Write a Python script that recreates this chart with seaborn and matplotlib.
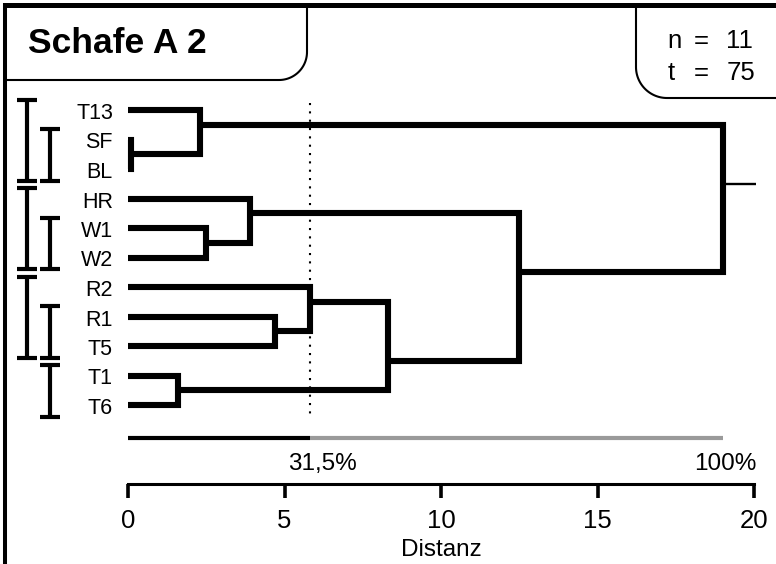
import numpy as np
import pandas as pd
import matplotlib
matplotlib.use("Agg")
import matplotlib.pyplot as plt
import seaborn as sns

# ---------------- data ----------------
leaves = ["T13", "SF", "BL", "HR", "W1", "W2", "R2", "R1", "T5", "T1", "T6"]
merge_left = ["SF", "T13", "W1", "HR", "R1", "R2", "T1", "K6", "K4", "K2"]
merge_right = ["BL", "K1", "W2", "K3", "T5", "K5", "T6", "K7", "K8", "K9"]
merge_dist = [0.1, 2.3, 2.5, 3.9, 4.7, 5.8, 1.6, 8.3, 12.5, 19.0]
cut_dist = 5.8
cut_label = "31,5%"
full_label = "100%"
bracket_outer = [("T13", "BL"), ("HR", "W2"), ("R2", "T5")]
bracket_inner = [("SF", "BL"), ("W1", "W2"), ("R1", "T5"), ("T1", "T6")]
xticks = [0, 5, 10, 15, 20]
title = "Schafe A 2"
n_val = 11
t_val = 75
xlabel = "Distanz"

# ---------------- style ----------------
sns.set_theme(style="white")
plt.rcParams["font.family"] = ["Liberation Sans", "DejaVu Sans"]
plt.rcParams["text.color"] = "black"
plt.rcParams["axes.labelcolor"] = "black"
plt.rcParams["xtick.color"] = "black"

W, H = 776, 564
X0, X1 = 128, 754
Y_TOP, Y_AX = 95, 484
ROW0, ROWH = 110, 29.5
PXU = (X1 - X0) / 20.0


def ux(p):
    return (p - X0) / PXU


def ur(p):
    return (p - ROW0) / ROWH


fig = plt.figure(figsize=(W / 100, H / 100), dpi=100)
fig.patch.set_facecolor("white")

# overlay for frame / boxes (pixel coordinates)
ax0 = fig.add_axes([0, 0, 1, 1])
ax0.set_xlim(0, W)
ax0.set_ylim(H, 0)
ax0.axis("off")

ax = fig.add_axes([X0 / W, 1 - Y_AX / H, (X1 - X0) / W, (Y_AX - Y_TOP) / H])
ax.set_facecolor("none")
ax.set_xlim(0, 20)
ax.set_ylim(ur(Y_AX), ur(Y_TOP))

# ---------------- tree layout ----------------
info = {}
for i, name in enumerate(leaves):
    info[name] = dict(row=float(i), dist=0.0, first=i, last=i)

rows = []
for k, (a, b, d) in enumerate(zip(merge_left, merge_right, merge_dist)):
    A, B = info[a], info[b]
    node = f"K{k + 1}"
    info[node] = dict(row=(A["last"] + B["first"]) / 2.0, dist=d,
                      first=A["first"], last=B["last"])
    pts = [(A["dist"], A["row"]), (d, A["row"]), (d, B["row"]), (B["dist"], B["row"])]
    for j, (x, y) in enumerate(pts):
        rows.append(dict(seg=k, order=j, x=x, y=y))
seg_df = pd.DataFrame(rows)

sns.lineplot(data=seg_df, x="x", y="y", units="seg", estimator=None, sort=False,
             color="black", lw=4.4, solid_joinstyle="miter", solid_capstyle="butt",
             clip_on=False, ax=ax, legend=False)

root = info[f"K{len(merge_dist)}"]
ax.plot([root["dist"], 20.05], [root["row"], root["row"]], color="black", lw=1.7,
        solid_capstyle="butt", clip_on=False)

# cut line
ax.plot([cut_dist, cut_dist], [ur(103), ur(418)], color="black", lw=1.5,
        ls=(0, (1, 3)), clip_on=False)

# similarity bar
bar_r = ur(438)
ax.plot([0, cut_dist], [bar_r, bar_r], color="black", lw=3, solid_capstyle="butt", clip_on=False)
ax.plot([cut_dist, merge_dist[-1]], [bar_r, bar_r], color="#9a9a9a", lw=3,
        solid_capstyle="butt", clip_on=False)
ax.annotate(cut_label, xy=(cut_dist, bar_r), xytext=(13, -32), textcoords="offset pixels",
            ha="center", va="baseline", fontsize=17.5, color="black")
ax.annotate(full_label, xy=(merge_dist[-1], bar_r), xytext=(3, -32), textcoords="offset pixels",
            ha="center", va="baseline", fontsize=17.5, color="black")

# leaf labels
for i, name in enumerate(leaves):
    ax.annotate(name, xy=(0, i), xytext=(-15, -9), textcoords="offset pixels",
                ha="right", va="baseline", fontsize=15.5, color="black")

# brackets
def bracket(xc, top_leaf, bot_leaf):
    r0 = leaves.index(top_leaf) - 0.34
    r1 = leaves.index(bot_leaf) + 0.40
    hw = 10 / PXU
    kw = dict(color="black", lw=3, solid_capstyle="butt", clip_on=False)
    ax.plot([xc, xc], [r0, r1], **kw)
    ax.plot([xc - hw, xc + hw], [r0, r0], **kw)
    ax.plot([xc - hw, xc + hw], [r1, r1], **kw)

for a, b in bracket_outer:
    bracket(ux(27), a, b)
for a, b in bracket_inner:
    bracket(ux(50), a, b)

# axis
for s in ["top", "left", "right"]:
    ax.spines[s].set_visible(False)
ax.spines["bottom"].set_linewidth(2.2)
ax.spines["bottom"].set_color("black")
ax.set_yticks([])
ax.set_xticks(xticks)
ax.set_xticklabels([str(v) for v in xticks])
ax.tick_params(axis="x", direction="out", length=10, width=2.6, pad=8,
               labelsize=18.5, colors="black", bottom=True)
ax.set_xlabel(xlabel, fontsize=17.5, labelpad=4, color="black")
ax.set_ylabel("")

# ---------------- frame and boxes ----------------
kw = dict(color="black", solid_capstyle="butt", solid_joinstyle="miter")
ax0.plot([3, W], [5, 5], lw=3.6, **kw)
ax0.plot([5, 5], [3, H], lw=2.9, **kw)

r = 28
th = np.linspace(np.pi / 2, 0, 30)
px = [5, 307 - r] + list(279 + r * np.cos(th)) + [307, 307]
py = [80, 80] + list(52 + r * np.sin(th)) + [52, 5]
ax0.plot(px, py, lw=1.5, **kw)

r2 = 31
th2 = np.linspace(np.pi, np.pi / 2, 30)
qx = [636, 636] + list(667 + r2 * np.cos(th2)) + [667, W]
qy = [5, 67] + list(67 + r2 * np.sin(th2)) + [98, 98]
ax0.plot(qx, qy, lw=1.5, **kw)

ax0.text(28, 53, title, ha="left", va="baseline", fontsize=25.5, fontweight="bold", color="black")
ax0.text(667, 48, "n", ha="left", va="baseline", fontsize=18.5, color="black")
ax0.text(701, 48, "=", ha="center", va="baseline", fontsize=18.5, color="black")
ax0.text(726, 48, str(n_val), ha="left", va="baseline", fontsize=18.5, color="black")
ax0.text(668, 80, "t", ha="left", va="baseline", fontsize=18.5, color="black")
ax0.text(701, 80, "=", ha="center", va="baseline", fontsize=18.5, color="black")
ax0.text(727, 80, str(t_val), ha="left", va="baseline", fontsize=18.5, color="black")

fig.savefig("out.png", dpi=100)
